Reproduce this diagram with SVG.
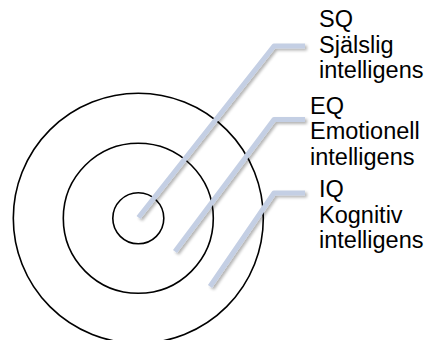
<svg xmlns="http://www.w3.org/2000/svg" width="428" height="340" viewBox="0 0 428 340">
  <style>
    .ring { fill: none; stroke: #000; stroke-width: 1.6; }
    .lead { fill: none; stroke: #C4CFE4; stroke-width: 5; stroke-linejoin: round; stroke-linecap: butt; }
    .lbl { font-family: "Liberation Sans", Arial, sans-serif; font-size: 23.5px; fill: #000; }
  </style>
  <defs>
    <filter id="shadow" x="-20%" y="-20%" width="140%" height="140%">
      <feGaussianBlur in="SourceAlpha" stdDeviation="1.5"/>
      <feOffset dx="2" dy="2" result="b"/>
      <feComponentTransfer><feFuncA type="linear" slope="0.3"/></feComponentTransfer>
      <feMerge><feMergeNode/><feMergeNode in="SourceGraphic"/></feMerge>
    </filter>
  </defs>
  <rect width="428" height="340" fill="#fff"/>
  <g id="ring-iq"><circle class="ring" cx="138.3" cy="218.3" r="125"/></g>
  <g id="ring-eq"><circle class="ring" cx="138.3" cy="218.3" r="75"/></g>
  <g id="ring-sq"><circle class="ring" cx="138.3" cy="218.3" r="25.5"/></g>
  <g id="connectors" filter="url(#shadow)">
    <polyline class="lead" points="138.5,217.5 274,46 305,46"/>
    <polyline class="lead" points="175,251.5 274,119.5 305,119.5"/>
    <polyline class="lead" points="210,286.5 274,193 305,193"/>
  </g>
  <g id="label-sq">
    <text class="lbl" x="319" y="27">SQ</text>
    <text class="lbl" x="319" y="52.5">Själslig</text>
    <text class="lbl" x="319" y="78">intelligens</text>
  </g>
  <g id="label-eq">
    <text class="lbl" x="310" y="113.5">EQ</text>
    <text class="lbl" x="310" y="139">Emotionell</text>
    <text class="lbl" x="310" y="164.5">intelligens</text>
  </g>
  <g id="label-iq">
    <text class="lbl" x="319" y="197">IQ</text>
    <text class="lbl" x="319" y="222.5">Kognitiv</text>
    <text class="lbl" x="319" y="248">intelligens</text>
  </g>
</svg>
